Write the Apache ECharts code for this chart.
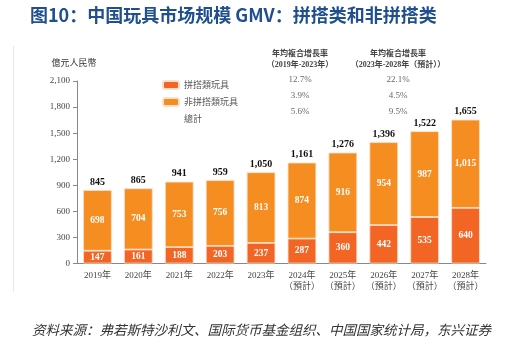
<!DOCTYPE html>
<html><head><meta charset="utf-8">
<script src="https://cdn.jsdelivr.net/npm/echarts@6/dist/echarts.min.js"></script>
<style>html,body{margin:0;padding:0;background:#fff}#c{width:510px;height:346px}</style>
</head><body><div id="c"></div>
<script>
var categories = ['2019年','2020年','2021年','2022年','2023年','2024年\n（預計）','2025年\n（預計）','2026年\n（預計）','2027年\n（預計）','2028年\n（預計）'];
var buildingToys = [147,161,188,203,237,287,360,442,535,640];
var nonBuildingToys = [698,704,753,756,813,874,916,954,987,1015];
var totals = [845,865,941,959,1050,1161,1276,1396,1522,1655];
var yTicks = {min:0, max:2100, interval:300};
var cagrHeaders1 = ['年均複合增長率','（2019年-2023年）'];
var cagrHeaders2 = ['年均複合增長率','（2023年-2028年（預計））'];
var cagr1 = ['12.7%','3.9%','5.6%'];
var cagr2 = ['22.1%','4.5%','9.5%'];
var seriesNames = ['拼搭類玩具','非拼搭類玩具','總計'];

var serif = "'Liberation Serif','Noto Sans CJK TC',serif";
function fmt(v){ return Number(v).toLocaleString('en-US'); }
var chart = echarts.init(document.getElementById('c'));
var graphics = [
  {type:'line', shape:{x1:13.5,y1:46,x2:13.5,y2:292}, style:{stroke:'#e8e8e8',lineWidth:1}},
  {type:'text', left:30, top:6, style:{text:'图10：中国玩具市场规模 GMV：拼搭类和非拼搭类', font:"bold 18px 'Noto Sans CJK SC', sans-serif", fill:'#1f4f8e'}},
  {type:'text', left:32, top:323, style:{text:'资料来源：弗若斯特沙利文、国际货币基金组织、中国国家统计局，东兴证券', font:"italic 13.5px 'Noto Sans CJK SC', sans-serif", fill:'#333'}}
];
function col(cx, headers, vals){
  graphics.push({type:'text', x:cx, y:49, style:{text:headers[0], font:"bold 8px 'Noto Sans CJK TC', sans-serif", fill:'#444', align:'center'}});
  graphics.push({type:'text', x:cx, y:61, style:{text:headers[1], font:"bold 8px "+serif, fill:'#444', align:'center'}});
  for (var i=0;i<vals.length;i++){
    graphics.push({type:'text', x:cx, y:75+i*16, style:{text:vals[i], font:"9px "+serif, fill:'#666', align:'center'}});
  }
}
col(300, cagrHeaders1, cagr1);
col(398, cagrHeaders2, cagr2);

chart.setOption({
  animation:false,
  textStyle:{fontFamily:serif},
  grid:{left:77, right:24, top:81, bottom:82.5},
  legend:{orient:'vertical', left:157, top:75, itemWidth:16, itemHeight:8, itemGap:7,
    textStyle:{fontSize:9, color:'#555', fontFamily:"'Noto Sans CJK TC',sans-serif"},
    data:[{name:seriesNames[0]},{name:seriesNames[1]},{name:seriesNames[2], icon:'none'}]},
  xAxis:{type:'category', data:categories,
    axisLine:{lineStyle:{color:'#888', width:1}}, axisTick:{show:false},
    axisLabel:{fontSize:9, color:'#444', lineHeight:11, margin:7, interval:0}},
  yAxis:{type:'value', min:yTicks.min, max:yTicks.max, interval:yTicks.interval,
    name:'億元人民幣', nameLocation:'end', nameGap:14,
    nameTextStyle:{fontSize:9, color:'#333', align:'center', fontFamily:"'Noto Sans CJK TC',sans-serif", padding:[0,6,0,0]},
    axisLine:{show:true, lineStyle:{color:'#888'}}, axisTick:{show:true, length:4, lineStyle:{color:'#888'}},
    splitLine:{show:false},
    axisLabel:{fontSize:9, color:'#444', margin:7, formatter:fmt}},
  series:[
    {name:seriesNames[0], type:'bar', stack:'a', data:buildingToys, barWidth:'70%',
      itemStyle:{color:'#f26524', borderColor:'#fde0cc', borderWidth:0.8},
      label:{show:true, position:'inside', color:'#fff', fontSize:9.5, fontWeight:'bold', formatter:function(p){return fmt(p.value);}}},
    {name:seriesNames[1], type:'bar', stack:'a', data:nonBuildingToys, barWidth:'70%',
      itemStyle:{color:'#f68d21', borderColor:'#fde0cc', borderWidth:0.8},
      label:{show:true, position:'inside', color:'#fff', fontSize:9.5, fontWeight:'bold', formatter:function(p){return fmt(p.value);}}},
    {name:seriesNames[2], type:'bar', data:totals, barWidth:'70%', barGap:'-100%',
      itemStyle:{color:'rgba(0,0,0,0)'}, silent:true, z:0,
      label:{show:true, position:'top', distance:3, color:'#111', fontSize:10, fontWeight:'bold',
        formatter:function(p){return fmt(p.value);}}}
  ],
  graphic:graphics
});
</script></body></html>
